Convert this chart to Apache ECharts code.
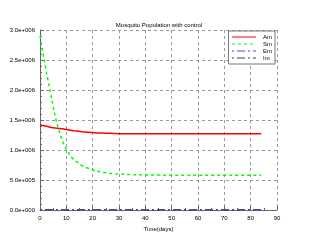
<!DOCTYPE html>
<html><head><meta charset="utf-8">
<script src="https://cdn.jsdelivr.net/npm/echarts@6/dist/echarts.min.js"></script>
<style>html,body{margin:0;padding:0;background:#fff}#c{width:318px;height:240px}</style>
</head><body><div id="c"></div>
<script>
var days = [0,1,2,3,4,5,6,7,8,9,10,12,14,16,18,20,22,25,28,30,35,40,45,50,55,60,65,70,75,80,84];
var Am = [1.42e6,1.41e6,1.40e6,1.39e6,1.38e6,1.37e6,1.365e6,1.36e6,1.355e6,1.35e6,1.34e6,1.325e6,1.315e6,1.305e6,1.297e6,1.29e6,1.285e6,1.28e6,1.275e6,1.272e6,1.27e6,1.27e6,1.27e6,1.27e6,1.27e6,1.27e6,1.27e6,1.27e6,1.27e6,1.27e6,1.27e6];
var Sm = [2.9e6,2.65e6,2.4e6,2.17e6,1.95e6,1.72e6,1.52e6,1.36e6,1.22e6,1.1e6,1.01e6,0.88e6,0.8e6,0.74e6,0.7e6,0.67e6,0.645e6,0.62e6,0.605e6,0.6e6,0.59e6,0.585e6,0.582e6,0.58e6,0.58e6,0.58e6,0.58e6,0.58e6,0.58e6,0.58e6,0.58e6];
var Em = [3000,2800,2600,2400,2200,2000,1900,1800,1700,1600,1500,1400,1300,1250,1200,1150,1100,1050,1000,1000,1000,1000,1000,1000,1000,1000,1000,1000,1000,1000,1000];
var Im = [1000,1000,1000,1000,1000,1000,1000,1000,1000,1000,1000,1000,1000,1000,1000,1000,1000,1000,1000,1000,1000,1000,1000,1000,1000,1000,1000,1000,1000,1000,1000];
var xTicks = [0,10,20,30,40,50,60,70,80,90];
function pairs(a){return days.map(function(d,i){return [d,a[i]];});}
function fmt(v){
  if(v===0) return '0.0e+000';
  var s=v.toExponential(1).split('e');
  var e=parseInt(s[1],10);
  var es=(e<0?'-':'+')+('000'+Math.abs(e)).slice(-3);
  return s[0]+'e'+es;
}
var font='Liberation Sans';
var chart=echarts.init(document.getElementById('c'),null,{renderer:'canvas'});
chart.setOption({
  animation:false,
  backgroundColor:'#fff',
  textStyle:{fontFamily:font},
  title:{text:'Mosquito Population with control',left:'center',top:17,textStyle:{fontSize:6,fontWeight:'normal',color:'#000',fontFamily:font}},
  legend:{
    orient:'vertical',right:43,top:31,itemWidth:24,itemHeight:5,itemGap:1,
    padding:[3,3,3,3],borderColor:'#777',borderWidth:1,backgroundColor:'#fff',
    itemStyle:{opacity:0},
    lineStyle:{width:1},
    textStyle:{fontSize:6,color:'#000',fontFamily:font,padding:[0,0,0,2]},
    data:['Am','Sm','Em','Im']
  },
  grid:{left:40,right:41,top:30,bottom:30,containLabel:false,outerBoundsMode:'none'},
  xAxis:{type:'value',min:0,max:90,interval:10,
    name:'Time(days)',nameLocation:'middle',nameGap:13,nameTextStyle:{fontSize:6,color:'#000',fontFamily:font},
    axisLine:{lineStyle:{color:'#666'}},
    axisTick:{inside:true,length:4,lineStyle:{color:'#666'}},
    minorTick:{show:true,splitNumber:2,length:2,lineStyle:{color:'#666'}},
    axisLabel:{fontSize:6,color:'#000',margin:5,fontFamily:font},
    splitLine:{show:true,lineStyle:{color:'#999',type:[3,3]}}
  },
  yAxis:{type:'value',min:0,max:3e6,interval:5e5,
    name:'States',nameLocation:'middle',nameGap:31,nameTextStyle:{fontSize:6,color:'#000',fontFamily:font},
    axisLine:{show:true,lineStyle:{color:'#666'}},
    axisTick:{show:true,inside:true,length:4,lineStyle:{color:'#666'}},
    minorTick:{show:true,splitNumber:5,length:2,lineStyle:{color:'#666'}},
    axisLabel:{fontSize:6,color:'#000',margin:5,formatter:fmt,fontFamily:font},
    splitLine:{show:true,lineStyle:{color:'#999',type:[3,3]}}
  },
  series:[
    {name:'Am',type:'line',data:pairs(Am),symbol:'none',smooth:true,color:'#ff0000',lineStyle:{width:1.5,color:'#ff0000'}},
    {name:'Sm',type:'line',data:pairs(Sm),symbol:'none',smooth:true,color:'#00ff00',lineStyle:{width:1.5,color:'#00ff00',type:[3,3]}},
    {name:'Em',type:'line',data:pairs(Em),symbol:'none',color:'#4444ff',lineStyle:{width:1.5,color:'#4444ff',type:[2,3,8,3]}},
    {name:'Im',type:'line',data:pairs(Im),symbol:'none',color:'#444444',lineStyle:{width:1.2,color:'#444444',type:[2,3,8,3]}}
  ]
});
</script></body></html>
